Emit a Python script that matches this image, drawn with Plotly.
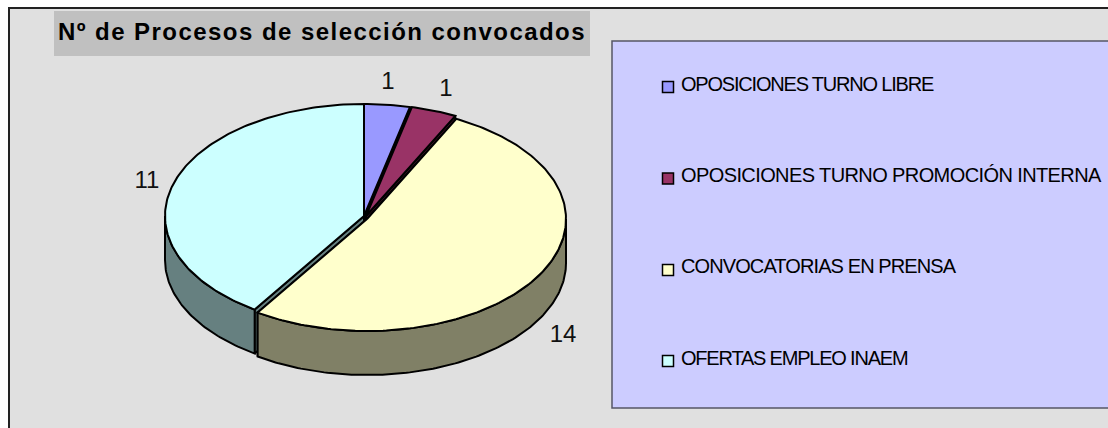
import json
import math
import plotly.graph_objects as go

# --- data ---
categories = ["OPOSICIONES TURNO LIBRE", "OPOSICIONES TURNO PROMOCIÓN INTERNA",
              "CONVOCATORIAS EN PRENSA", "OFERTAS EMPLEO INAEM"]
values = [1, 1, 14, 11]
top_colors = ["#9999FF", "#993366", "#FFFFCC", "#CCFFFF"]
side_colors = ["#4D4D80", "#4D1A33", "#808066", "#668080"]
title_text = "Nº de Procesos de selección convocados"

# --- layout geometry (pixel space of the picture) ---
W, H = 1108, 428
CX, CY, A, B, DEPTH = 364, 216, 199, 112, 44
offsets = [(0, 0), (2, 0), (3, 3), (0, 0)]
label_pos = [(388, 83), (446, 90), (563, 336), (147, 182)]
swatch_x, legend_text_x = 668, 681
swatch_y = [87, 178.5, 270, 361]
legend_y = [86, 177, 268, 360]
legend_tracking = [-1.2, -0.6, -0.9, -1.2]
INK = "#000000"
LW = 2

total = sum(values)
angles = [0]
for v in values:
    angles.append(angles[-1] + v / total * 360)


def rim(t0, t1, dx, dy, drop=0):
    n = max(2, int(abs(t1 - t0)) + 2)
    pts = []
    for i in range(n):
        t = math.radians(t0 + (t1 - t0) * i / (n - 1))
        pts.append((CX + dx + A * math.sin(t), CY + dy + drop - B * math.cos(t)))
    return pts


def poly(fig, pts, color):
    xs = [p[0] for p in pts] + [pts[0][0]]
    ys = [p[1] for p in pts] + [pts[0][1]]
    fig.add_trace(go.Scatter(x=xs, y=ys, mode="lines", fill="toself", fillcolor=color,
                             line=dict(color=INK, width=LW), hoverinfo="skip", showlegend=False))


fig = go.Figure()

# extruded parts: back to front
for i in [0, 1, 3, 2]:
    t0, t1 = angles[i], angles[i + 1]
    dx, dy = offsets[i]
    apex = (CX + dx, CY + dy)
    apex_low = (apex[0], apex[1] + DEPTH)
    # cut faces
    for t in (t0, t1):
        edge = rim(t, t, dx, dy)[0]
        poly(fig, [apex, edge, (edge[0], edge[1] + DEPTH), apex_low], side_colors[i])
    # outer wall, front half only
    v0, v1 = max(t0, 90), min(t1, 270)
    if v1 > v0:
        poly(fig, rim(v0, v1, dx, dy) + rim(v1, v0, dx, dy, DEPTH), side_colors[i])

# top faces
for i in [3, 0, 1, 2]:
    t0, t1 = angles[i], angles[i + 1]
    dx, dy = offsets[i]
    poly(fig, [(CX + dx, CY + dy)] + rim(t0, t1, dx, dy), top_colors[i])

# value labels
fig.add_trace(go.Scatter(x=[p[0] for p in label_pos], y=[p[1] for p in label_pos],
                         mode="text", text=[str(v) for v in values],
                         textfont=dict(family="Liberation Sans", size=24, color="#111111"),
                         hoverinfo="skip", showlegend=False))

# legend swatches
fig.add_trace(go.Scatter(x=[swatch_x] * 4, y=swatch_y, mode="markers",
                         marker=dict(symbol="square", size=11, color=top_colors,
                                     line=dict(color=INK, width=1.5)),
                         hoverinfo="skip", showlegend=False))
# legend text
fig.add_trace(go.Scatter(x=[legend_text_x] * 4, y=legend_y, mode="text", text=categories,
                         textposition="middle right",
                         textfont=dict(family="Liberation Sans", size=20, color="#000000"),
                         hoverinfo="skip", showlegend=False))

fig.update_layout(
    width=W, height=H, margin=dict(l=0, r=0, t=0, b=0),
    paper_bgcolor="#FFFFFF", plot_bgcolor="#FFFFFF",
    xaxis=dict(range=[0, W], visible=False, fixedrange=True),
    yaxis=dict(range=[H, 0], visible=False, fixedrange=True),
    title=dict(text=title_text, x=322 / W, y=1 - 32 / H, xanchor="center", yanchor="middle",
               font=dict(family="Liberation Sans", size=24, color="#000000", weight="bold")),
    shapes=[
        dict(type="rect", xref="x", yref="y", x0=9, y0=8, x1=W + 20, y1=H + 20,
             fillcolor="#E0E0E0", line=dict(color="#222222", width=2), layer="below"),
        dict(type="rect", xref="x", yref="y", x0=54, y0=11, x1=590, y1=56,
             fillcolor="#C0C0C0", line=dict(width=0), layer="below"),
        dict(type="rect", xref="x", yref="y", x0=612, y0=41, x1=W + 20, y1=408,
             fillcolor="#CCCCFF", line=dict(color="#555566", width=1.5), layer="below"),
    ],
)

tracking = json.dumps(dict(zip(categories, legend_tracking)), ensure_ascii=False)
fig.write_html("out.html", config=dict(displayModeBar=False),
               post_script=("document.body.style.margin='0';"
                            "document.querySelectorAll('.gtitle').forEach(function(t){"
                            "t.style.letterSpacing='1.45px';});"
                            "var trk=" + tracking + ";"
                            "document.querySelectorAll('.textpoint text').forEach(function(t){"
                            "var s=trk[t.textContent];if(s!==undefined){t.style.letterSpacing=s+'px';}});"))
